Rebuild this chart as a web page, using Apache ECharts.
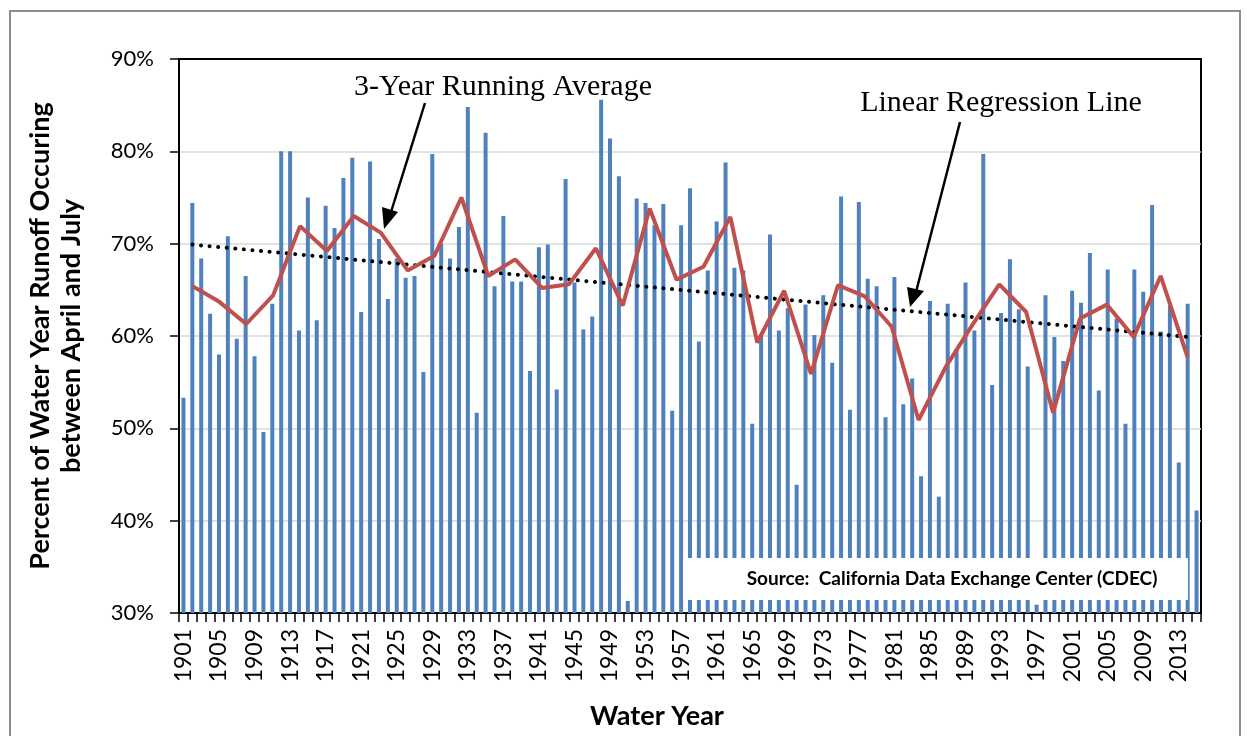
<!DOCTYPE html>
<html>
<head>
<meta charset="utf-8">
<script src="https://cdn.jsdelivr.net/npm/echarts@6/dist/echarts.min.js"></script>
<style>
  html, body { margin: 0; padding: 0; background: #fff; }
  #chart { width: 1247px; height: 736px; }
</style>
</head>
<body>
<div id="chart"></div>
<script>
// water years 1901-2015
const years = [];
for (let y = 1901; y <= 2015; y++) years.push(String(y));

// percent of water year runoff occurring April-July
const runoffPct = [
  53.3, 74.4, 68.4, 62.4, 58.0, 70.8, 59.7, 66.5, 57.8, 49.6,
  63.5, 80.0, 80.0, 60.6, 75.0, 61.7, 74.1, 71.7, 77.1, 79.3,
  62.6, 78.9, 70.5, 64.0, 68.4, 66.3, 66.5, 56.1, 79.7, 70.0,
  68.4, 71.8, 84.8, 51.7, 82.0, 65.4, 73.0, 65.9, 65.9, 56.2,
  69.6, 69.9, 54.2, 77.0, 65.8, 60.7, 62.1, 85.6, 81.4, 77.3,
  31.3, 74.9, 74.4, 72.0, 74.3, 51.9, 72.0, 76.0, 59.4, 67.1,
  72.4, 78.8, 67.4, 67.1, 50.5, 60.2, 71.0, 60.6, 63.0, 43.9,
  63.4, 60.1, 64.4, 57.1, 75.1, 52.0, 74.5, 66.2, 65.4, 51.2,
  66.4, 52.6, 55.4, 44.8, 63.8, 42.6, 63.5, 58.6, 65.8, 60.6,
  79.7, 54.7, 62.5, 68.3, 62.9, 56.7, 30.9, 64.4, 59.9, 57.3,
  64.9, 63.6, 69.0, 54.1, 67.2, 61.9, 50.5, 67.2, 64.8, 74.2,
  60.5, 63.3, 46.3, 63.5, 41.1
];

// 3-year running average (one point per 3-year block, 1902, 1905, ... 2013)
const runAvg = [
  65.4, 63.7, 61.3, 64.4, 71.9, 69.2, 73.0, 71.2, 67.1, 68.7,
  75.0, 66.5, 68.3, 65.2, 65.6, 69.5, 63.3, 73.8, 66.1, 67.5,
  72.9, 59.3, 64.9, 55.9, 65.5, 64.3, 61.0, 50.9, 56.6, 61.2,
  65.6, 62.6, 51.7, 61.9, 63.4, 59.9, 66.5, 57.7
];
const avgYears = runAvg.map((v, i) => String(1902 + i * 3));

// linear regression end points (first and last block)
const regression = [[0, 69.9], [runAvg.length - 1, 59.9]];

const yTicks = [30, 40, 50, 60, 70, 80, 90];

const chart = echarts.init(document.getElementById('chart'));

const option = {
  animation: false,
  backgroundColor: '#fff',
  grid: {
    left: 179, right: 46, top: 59, bottom: 123,
    show: true, borderColor: '#000', borderWidth: 2, backgroundColor: 'transparent'
  },
  xAxis: [
    {
      type: 'category',
      data: years,
      boundaryGap: true,
      axisLine: { lineStyle: { color: '#000', width: 2 } },
      axisTick: { show: true, interval: 0, length: 9, lineStyle: { color: '#000', width: 1.5 } },
      axisLabel: {
        interval: 3, rotate: 90, margin: 16,
        fontFamily: 'Lato', fontSize: 23, color: '#000'
      }
    },
    {
      // secondary axis for the 3-year blocks, its line closes the plot frame at the top
      type: 'category',
      data: avgYears,
      boundaryGap: true,
      position: 'top',
      axisLine: { show: true, lineStyle: { color: '#000', width: 2 } },
      axisTick: { show: false },
      axisLabel: { show: false },
      splitLine: { show: false }
    }
  ],
  yAxis: {
    type: 'value',
    min: yTicks[0],
    max: yTicks[yTicks.length - 1],
    interval: 10,
    axisLine: { show: true, lineStyle: { color: '#000', width: 2 } },
    axisTick: { show: true, length: 9, lineStyle: { color: '#000', width: 1.5 } },
    axisLabel: {
      formatter: '{value}%', margin: 25,
      fontFamily: 'Lato', fontSize: 22, color: '#000'
    },
    splitLine: { lineStyle: { color: '#d9d9d9', width: 1.5 } },
    name: 'Percent of Water Year Runoff Occuring\nbetween April and July',
    nameLocation: 'middle',
    nameGap: 92,
    nameTextStyle: {
      fontFamily: 'Lato', fontWeight: 'bold', fontSize: 27, color: '#000', lineHeight: 31
    }
  },
  series: [
    {
      name: 'Runoff',
      type: 'bar',
      xAxisIndex: 0,
      data: runoffPct,
      barWidth: 4,
      itemStyle: { color: '#4f81bd' },
      z: 2
    },
    {
      name: 'Linear Regression Line',
      type: 'line',
      xAxisIndex: 1,
      data: regression,
      symbol: 'none',
      lineStyle: { color: '#000', width: 4, type: [0.1, 8.5], cap: 'round' },
      z: 4
    },
    {
      name: '3-Year Running Average',
      type: 'line',
      xAxisIndex: 1,
      data: runAvg,
      symbol: 'none',
      lineStyle: { color: '#c0504d', width: 4 },
      z: 5
    }
  ],
  graphic: [
    {
      type: 'rect', z: 100,
      shape: { x: 10, y: 11, width: 1230, height: 760 },
      style: { fill: 'none', stroke: '#8c8c8c', lineWidth: 2 }
    },
    {
      type: 'text', z: 101, x: 657, y: 716,
      style: {
        text: 'Water Year',
        fontFamily: 'Lato', fontWeight: 'bold', fontSize: 27, fill: '#000',
        align: 'center', verticalAlign: 'middle'
      }
    },
    {
      type: 'rect', z: 100,
      shape: { x: 683, y: 558, width: 505, height: 42 },
      style: { fill: '#fff', stroke: 'none' }
    },
    {
      type: 'text', z: 101, x: 952, y: 579,
      style: {
        text: 'Source:  California Data Exchange Center (CDEC)',
        fontFamily: 'Lato', fontWeight: 'bold', fontSize: 19, fill: '#000',
        align: 'center', verticalAlign: 'middle'
      }
    },
    {
      type: 'text', z: 101, x: 503, y: 87,
      style: {
        text: '3-Year Running Average',
        fontFamily: 'Liberation Serif', fontSize: 30, fill: '#000',
        align: 'center', verticalAlign: 'middle'
      }
    },
    {
      type: 'text', z: 101, x: 1001, y: 103,
      style: {
        text: 'Linear Regression Line',
        fontFamily: 'Liberation Serif', fontSize: 30, fill: '#000',
        align: 'center', verticalAlign: 'middle'
      }
    },
    {
      type: 'line', z: 101,
      shape: { x1: 425, y1: 103, x2: 391, y2: 212 },
      style: { stroke: '#000', lineWidth: 2.5 }
    },
    {
      type: 'polygon', z: 101,
      shape: { points: [[384, 229], [382, 207], [398, 212]] },
      style: { fill: '#000' }
    },
    {
      type: 'line', z: 101,
      shape: { x1: 960, y1: 122, x2: 916, y2: 292 },
      style: { stroke: '#000', lineWidth: 2.5 }
    },
    {
      type: 'polygon', z: 101,
      shape: { points: [[910, 307], [907, 287], [924, 291]] },
      style: { fill: '#000' }
    }
  ]
};

chart.setOption(option);
</script>
</body>
</html>
